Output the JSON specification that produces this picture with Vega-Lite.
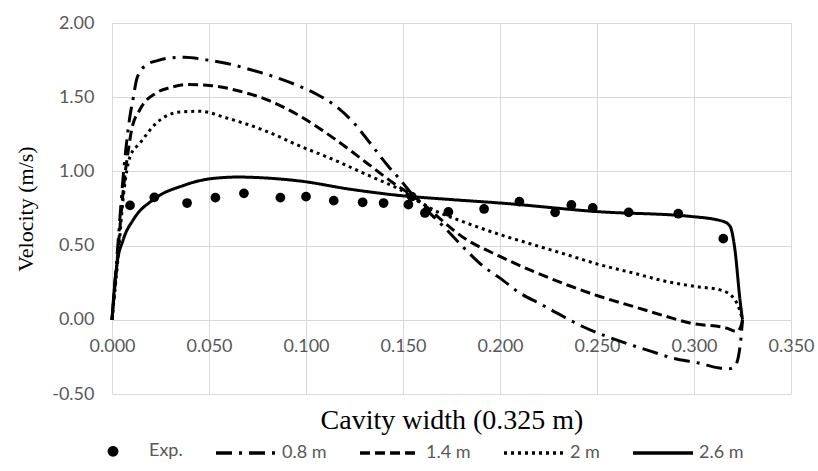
{
  "$schema": "https://vega.github.io/schema/vega-lite/v6.json",
  "width": 679,
  "height": 371,
  "autosize": {"type": "none"},
  "padding": {"left": 112, "top": 23, "right": 27, "bottom": 77},
  "background": "white",
  "config": {
    "view": {"stroke": null},
    "axis": {"gridColor": "#d9d9d9", "gridWidth": 1, "labelColor": "#595959", "labelFont": "Lato", "labelFontSize": 18, "ticks": false, "titleFont": "Liberation Serif", "titleFontWeight": "normal", "titleColor": "black", "labelExpr": "replace(datum.label, '\u2212', '-')"}
  },
  "datasets": {
    "lines": [
      {"series": "0.8 m", "x": 0, "y": 0},
      {"series": "0.8 m", "x": 0.003, "y": 0.5},
      {"series": "0.8 m", "x": 0.006, "y": 1.0},
      {"series": "0.8 m", "x": 0.009, "y": 1.35},
      {"series": "0.8 m", "x": 0.011, "y": 1.5},
      {"series": "0.8 m", "x": 0.0127, "y": 1.62},
      {"series": "0.8 m", "x": 0.0144, "y": 1.67},
      {"series": "0.8 m", "x": 0.018, "y": 1.72},
      {"series": "0.8 m", "x": 0.023, "y": 1.745},
      {"series": "0.8 m", "x": 0.03, "y": 1.765},
      {"series": "0.8 m", "x": 0.0376, "y": 1.77},
      {"series": "0.8 m", "x": 0.047, "y": 1.755},
      {"series": "0.8 m", "x": 0.06, "y": 1.725},
      {"series": "0.8 m", "x": 0.0711, "y": 1.687},
      {"series": "0.8 m", "x": 0.0943, "y": 1.586},
      {"series": "0.8 m", "x": 0.1055, "y": 1.52},
      {"series": "0.8 m", "x": 0.1158, "y": 1.435},
      {"series": "0.8 m", "x": 0.1244, "y": 1.33},
      {"series": "0.8 m", "x": 0.1325, "y": 1.2},
      {"series": "0.8 m", "x": 0.1424, "y": 1.035},
      {"series": "0.8 m", "x": 0.1485, "y": 0.945},
      {"series": "0.8 m", "x": 0.155, "y": 0.84},
      {"series": "0.8 m", "x": 0.1725, "y": 0.607},
      {"series": "0.8 m", "x": 0.181, "y": 0.49},
      {"series": "0.8 m", "x": 0.1914, "y": 0.36},
      {"series": "0.8 m", "x": 0.2, "y": 0.281},
      {"series": "0.8 m", "x": 0.2103, "y": 0.18},
      {"series": "0.8 m", "x": 0.2206, "y": 0.108},
      {"series": "0.8 m", "x": 0.2326, "y": 0.022},
      {"series": "0.8 m", "x": 0.2426, "y": -0.045},
      {"series": "0.8 m", "x": 0.2647, "y": -0.157},
      {"series": "0.8 m", "x": 0.278, "y": -0.213},
      {"series": "0.8 m", "x": 0.289, "y": -0.258},
      {"series": "0.8 m", "x": 0.3023, "y": -0.291},
      {"series": "0.8 m", "x": 0.3131, "y": -0.325},
      {"series": "0.8 m", "x": 0.318, "y": -0.33},
      {"series": "0.8 m", "x": 0.3212, "y": -0.31},
      {"series": "0.8 m", "x": 0.324, "y": -0.15},
      {"series": "0.8 m", "x": 0.325, "y": 0},
      {"series": "1.4 m", "x": 0, "y": 0},
      {"series": "1.4 m", "x": 0.003, "y": 0.45},
      {"series": "1.4 m", "x": 0.006, "y": 0.9},
      {"series": "1.4 m", "x": 0.0085, "y": 1.15},
      {"series": "1.4 m", "x": 0.0101, "y": 1.28},
      {"series": "1.4 m", "x": 0.0144, "y": 1.417},
      {"series": "1.4 m", "x": 0.023, "y": 1.53},
      {"series": "1.4 m", "x": 0.03, "y": 1.565},
      {"series": "1.4 m", "x": 0.0385, "y": 1.585},
      {"series": "1.4 m", "x": 0.0505, "y": 1.579},
      {"series": "1.4 m", "x": 0.066, "y": 1.54},
      {"series": "1.4 m", "x": 0.0797, "y": 1.484},
      {"series": "1.4 m", "x": 0.097, "y": 1.372},
      {"series": "1.4 m", "x": 0.114, "y": 1.226},
      {"series": "1.4 m", "x": 0.1313, "y": 1.057},
      {"series": "1.4 m", "x": 0.145, "y": 0.922},
      {"series": "1.4 m", "x": 0.1553, "y": 0.832},
      {"series": "1.4 m", "x": 0.1828, "y": 0.54},
      {"series": "1.4 m", "x": 0.2, "y": 0.427},
      {"series": "1.4 m", "x": 0.2172, "y": 0.326},
      {"series": "1.4 m", "x": 0.2344, "y": 0.236},
      {"series": "1.4 m", "x": 0.2515, "y": 0.157},
      {"series": "1.4 m", "x": 0.2687, "y": 0.09},
      {"series": "1.4 m", "x": 0.2859, "y": 0.022},
      {"series": "1.4 m", "x": 0.2979, "y": -0.022},
      {"series": "1.4 m", "x": 0.3168, "y": -0.056},
      {"series": "1.4 m", "x": 0.322, "y": -0.079},
      {"series": "1.4 m", "x": 0.324, "y": -0.05},
      {"series": "1.4 m", "x": 0.325, "y": 0},
      {"series": "2 m", "x": 0, "y": 0},
      {"series": "2 m", "x": 0.003, "y": 0.4},
      {"series": "2 m", "x": 0.006, "y": 0.85},
      {"series": "2 m", "x": 0.0093, "y": 1.10},
      {"series": "2 m", "x": 0.0144, "y": 1.19},
      {"series": "2 m", "x": 0.023, "y": 1.327},
      {"series": "2 m", "x": 0.035, "y": 1.40},
      {"series": "2 m", "x": 0.0454, "y": 1.405},
      {"series": "2 m", "x": 0.0591, "y": 1.36},
      {"series": "2 m", "x": 0.0797, "y": 1.27},
      {"series": "2 m", "x": 0.097, "y": 1.17},
      {"series": "2 m", "x": 0.114, "y": 1.08},
      {"series": "2 m", "x": 0.1313, "y": 0.978},
      {"series": "2 m", "x": 0.1485, "y": 0.877},
      {"series": "2 m", "x": 0.1656, "y": 0.742},
      {"series": "2 m", "x": 0.1828, "y": 0.652},
      {"series": "2 m", "x": 0.2, "y": 0.574},
      {"series": "2 m", "x": 0.2172, "y": 0.506},
      {"series": "2 m", "x": 0.2344, "y": 0.439},
      {"series": "2 m", "x": 0.2515, "y": 0.371},
      {"series": "2 m", "x": 0.2687, "y": 0.315},
      {"series": "2 m", "x": 0.2859, "y": 0.258},
      {"series": "2 m", "x": 0.3005, "y": 0.225},
      {"series": "2 m", "x": 0.3143, "y": 0.198},
      {"series": "2 m", "x": 0.3211, "y": 0.135},
      {"series": "2 m", "x": 0.3237, "y": 0.06},
      {"series": "2 m", "x": 0.325, "y": 0},
      {"series": "2.6 m", "x": 0, "y": 0},
      {"series": "2.6 m", "x": 0.001, "y": 0.18},
      {"series": "2.6 m", "x": 0.0024, "y": 0.36},
      {"series": "2.6 m", "x": 0.0058, "y": 0.54},
      {"series": "2.6 m", "x": 0.011, "y": 0.675},
      {"series": "2.6 m", "x": 0.0213, "y": 0.81},
      {"series": "2.6 m", "x": 0.0368, "y": 0.905},
      {"series": "2.6 m", "x": 0.0505, "y": 0.95},
      {"series": "2.6 m", "x": 0.065, "y": 0.962},
      {"series": "2.6 m", "x": 0.08, "y": 0.955},
      {"series": "2.6 m", "x": 0.097, "y": 0.935},
      {"series": "2.6 m", "x": 0.1227, "y": 0.88},
      {"series": "2.6 m", "x": 0.148, "y": 0.838},
      {"series": "2.6 m", "x": 0.175, "y": 0.81},
      {"series": "2.6 m", "x": 0.2, "y": 0.787},
      {"series": "2.6 m", "x": 0.2515, "y": 0.728},
      {"series": "2.6 m", "x": 0.298, "y": 0.697},
      {"series": "2.6 m", "x": 0.3151, "y": 0.663},
      {"series": "2.6 m", "x": 0.3186, "y": 0.63},
      {"series": "2.6 m", "x": 0.3211, "y": 0.472},
      {"series": "2.6 m", "x": 0.3237, "y": 0.135},
      {"series": "2.6 m", "x": 0.325, "y": 0}
    ],
    "exp": [
      {"series": "Exp.", "x": 0.0093, "y": 0.771},
      {"series": "Exp.", "x": 0.0218, "y": 0.825},
      {"series": "Exp.", "x": 0.0387, "y": 0.787},
      {"series": "Exp.", "x": 0.0533, "y": 0.823},
      {"series": "Exp.", "x": 0.068, "y": 0.852},
      {"series": "Exp.", "x": 0.0868, "y": 0.823},
      {"series": "Exp.", "x": 0.1, "y": 0.83},
      {"series": "Exp.", "x": 0.1143, "y": 0.803},
      {"series": "Exp.", "x": 0.1292, "y": 0.792},
      {"series": "Exp.", "x": 0.14, "y": 0.787},
      {"series": "Exp.", "x": 0.1528, "y": 0.776},
      {"series": "Exp.", "x": 0.1545, "y": 0.83},
      {"series": "Exp.", "x": 0.1613, "y": 0.72},
      {"series": "Exp.", "x": 0.1734, "y": 0.727},
      {"series": "Exp.", "x": 0.1918, "y": 0.747},
      {"series": "Exp.", "x": 0.21, "y": 0.796},
      {"series": "Exp.", "x": 0.2284, "y": 0.724},
      {"series": "Exp.", "x": 0.2368, "y": 0.774},
      {"series": "Exp.", "x": 0.2478, "y": 0.754},
      {"series": "Exp.", "x": 0.2663, "y": 0.724},
      {"series": "Exp.", "x": 0.2919, "y": 0.715},
      {"series": "Exp.", "x": 0.3151, "y": 0.547}
    ]
  },
  "layer": [
    {
      "data": {"name": "exp"},
      "mark": {"type": "point", "filled": true, "shape": "circle", "size": 95, "color": "black", "opacity": 1},
      "encoding": {
        "x": {"field": "x", "type": "quantitative", "scale": {"domain": [0, 0.35], "nice": false}, "axis": {"values": [0, 0.05, 0.1, 0.15, 0.2, 0.25, 0.3, 0.35], "format": ".3f", "labelFlush": false, "title": "Cavity width (0.325 m)", "titleFontSize": 28, "offset": -74, "labelPadding": 17, "titlePadding": 51, "domainColor": "#d9d9d9", "domainWidth": 1}},
        "y": {"field": "y", "type": "quantitative", "scale": {"domain": [-0.5, 2], "nice": false}, "axis": {"values": [-0.5, 0, 0.5, 1, 1.5, 2], "format": ".2f", "labelFlush": false, "title": "Velocity (m/s)", "titleFontSize": 22, "labelPadding": 18, "titlePadding": 14, "domain": false}}
      }
    },
    {
      "data": {"name": "lines"},
      "mark": {"type": "line", "color": "black", "strokeWidth": 3, "interpolate": "monotone", "strokeCap": "butt"},
      "encoding": {
        "x": {"field": "x", "type": "quantitative"},
        "y": {"field": "y", "type": "quantitative"},
        "detail": {"field": "series"},
        "strokeDash": {
          "field": "series", "type": "nominal",
          "scale": {"domain": ["Exp.", "0.8 m", "1.4 m", "2 m", "2.6 m"], "range": [[1, 0], [16, 7, 3, 7], [10, 5], [3, 4], [1, 0]]},
          "legend": {
            "orient": "none", "direction": "horizontal", "legendX": -31, "legendY": 396,
            "title": null, "symbolType": "stroke", "symbolSize": 3600, "symbolStrokeWidth": 3.5, "symbolStrokeColor": "black",
            "labelFont": "Lato", "labelFontSize": 18, "labelColor": "#595959", "labelOffset": 4, "columnPadding": 26,
            "encode": {
              "symbols": {
                "update": {
                  "shape": {"signal": "datum.value === 'Exp.' ? 'M-1,0M-0.18,0A0.18,0.18,0,1,0,0.18,0A0.18,0.18,0,1,0,-0.18,0ZM1,0' : 'stroke'"},
                  "fill": {"signal": "datum.value === 'Exp.' ? 'black' : 'transparent'"},
                  "stroke": {"signal": "datum.value === 'Exp.' ? 'transparent' : 'black'"},
                  "opacity": {"value": 1}
                }
              }
            }
          }
        }
      }
    }
  ]
}
